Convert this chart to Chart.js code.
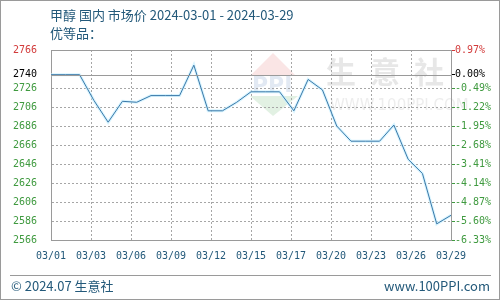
<!DOCTYPE html>
<html>
<head>
<meta charset="utf-8">
<script src="https://cdn.jsdelivr.net/npm/chart.js@4.4.1/dist/chart.umd.min.js"></script>
<style>
  html, body { margin: 0; padding: 0; background: #fff; }
  #wrap { position: relative; width: 500px; height: 300px; box-sizing: border-box; border: 1px solid #9a9a9a; overflow: hidden; }
  #wrap canvas { position: absolute; left: -1px; top: -1px; }
  .txt { position: absolute; font-family: "Noto Sans CJK SC", "Noto Sans", sans-serif; color: #23597a; white-space: nowrap; }
  #title { left: 49px; top: 5px; font-size: 13px; line-height: 18px; }
  #sub { left: 49px; top: 23px; font-size: 13px; line-height: 18px; }
  #foot { position: absolute; left: 9px; right: 8px; top: 274px; border-top: 1px solid #9a9a9a; }
  #copy { left: 10px; top: 276px; font-size: 13px; line-height: 18px; }
  #site { right: 9px; top: 276px; font-size: 13px; line-height: 18px; }
</style>
</head>
<body>
<div id="wrap">
  <canvas id="chart" width="500" height="300"></canvas>
  <div class="txt" id="title">甲醇 国内 市场价 2024-03-01 - 2024-03-29</div>
  <div class="txt" id="sub">优等品：</div>
  <div id="foot"></div>
  <div class="txt" id="copy">© 2024.07 生意社</div>
  <div class="txt" id="site">www.100PPI.com</div>
</div>
<script>
// daily prices 03/01 .. 03/29
const dates = ['03/01','03/02','03/03','03/04','03/05','03/06','03/07','03/08','03/09','03/10',
  '03/11','03/12','03/13','03/14','03/15','03/16','03/17','03/18','03/19','03/20',
  '03/21','03/22','03/23','03/24','03/25','03/26','03/27','03/28','03/29']
const prices = [2740, 2740, 2740, 2713, 2690, 2712, 2711, 2718, 2718, 2718,
  2750, 2702, 2702, 2711, 2722, 2722, 2722, 2702, 2735, 2724,
  2686, 2670, 2670, 2670, 2687, 2651, 2636, 2583, 2592]

const xTickLabels = ['03/01','03/03','03/06','03/09','03/12','03/15','03/17','03/20','03/23','03/26','03/29']
const leftTicks = [2766, 2740, 2726, 2706, 2686, 2666, 2646, 2626, 2606, 2586, 2566]
const rightTicks = ['0.97%','0.00%','-0.49%','-1.22%','-1.95%','-2.68%','-3.41%','-4.14%','-4.87%','-5.60%','-6.33%']

const basePrice = prices[0]
const yMin = leftTicks[leftTicks.length - 1]
const yMax = leftTicks[0]

const GREEN = '#3f9a3f'
const RED = '#d23a3a'
const GRID = '#a6a6a6'
const NONE = 'rgba(0,0,0,0)'
const tickColor = v => v === yMax ? RED : (v === basePrice ? '#000' : GREEN)

const points = prices.map((p, i) => ({ x: i, y: p }))
const tickFont = { family: 'DejaVu Sans Mono', size: 10 }

// faint watermark, box top + base line
const decor = {
    id: 'decor',
    beforeDraw(chart) {
        const c = chart.ctx
        c.save()
        c.globalAlpha = 0.15
        c.fillStyle = '#e05050'
        c.beginPath(); c.moveTo(273, 53); c.lineTo(296, 76); c.lineTo(250, 76); c.closePath(); c.fill()
        c.fillStyle = '#3aa040'
        c.beginPath(); c.moveTo(250, 96); c.lineTo(298, 96); c.lineTo(273, 116); c.closePath(); c.fill()
        c.fillStyle = '#3a6ab0'
        c.font = 'bold 22px "DejaVu Sans"'
        c.textBaseline = 'middle'
        c.fillText('PPI', 252, 86)
        c.globalAlpha = 1
        c.fillStyle = 'rgba(175,175,175,0.3)'
        c.font = 'bold 30px "Noto Sans CJK SC"'
        c.fillText('生', 326, 72)
        c.fillText('意', 370, 72)
        c.fillText('社', 414, 72)
        c.fillStyle = 'rgba(185,185,185,0.25)'
        c.font = '15px "DejaVu Sans"'
        c.fillText('WWW.100PPI.COM', 330, 106)
        c.restore()
    },
    afterDraw(chart) {
        const c = chart.ctx
        const a = chart.chartArea
        const sy = chart.scales.y
        const L = Math.round(a.left), R = Math.round(a.right)
        c.save()
        c.fillStyle = '#9a9a9a'
        c.fillRect(L, Math.round(a.top), R - L, 1)
        c.fillRect(L, Math.round(sy.getPixelForValue(basePrice)), R - L, 1)
        c.restore()
    }
}

new Chart(document.getElementById('chart'), {
    type: 'line',
    data: {
        datasets: [{
            data: points,
            borderColor: '#3a78a8',
            borderWidth: 1,
            pointRadius: 0,
            tension: 0,
            order: 0
        }, {
            data: points,
            borderColor: 'rgba(200,240,255,0.7)',
            borderWidth: 3,
            pointRadius: 0,
            tension: 0,
            order: 1
        }]
    },
    options: {
        responsive: false,
        animation: false,
        events: [],
        layout: { padding: { top: 50, left: 0, right: 0, bottom: 0 } },
        plugins: { legend: { display: false }, tooltip: { enabled: false } },
        scales: {
            x: {
                type: 'linear',
                min: 0,
                max: dates.length - 1,
                afterBuildTicks: s => { s.ticks = xTickLabels.map((t, i) => ({ value: i * (dates.length - 1) / (xTickLabels.length - 1) })) },
                afterFit: s => { s.height = 60 },
                ticks: {
                    font: tickFont,
                    color: '#23597a',
                    padding: 10,
                    maxRotation: 0,
                    autoSkip: false,
                    callback: (v, i) => xTickLabels[i]
                },
                grid: {
                    drawTicks: false,
                    lineWidth: 1,
                    color: ctx => (ctx.index === 0 || ctx.index === xTickLabels.length - 1) ? NONE : GRID
                },
                border: { color: '#9a9a9a', dash: [2, 2] }
            },
            y: {
                position: 'left',
                min: yMin,
                max: yMax,
                afterBuildTicks: s => { s.ticks = leftTicks.map(v => ({ value: v })) },
                afterFit: s => { s.width = 51 },
                ticks: {
                    font: tickFont,
                    padding: 14,
                    autoSkip: false,
                    color: ctx => tickColor(ctx.tick.value),
                    callback: v => String(v)
                },
                grid: {
                    drawTicks: false,
                    lineWidth: 1,
                    color: ctx => {
                        const v = leftTicks[ctx.index]
                        return (v === yMax || v === yMin || v === basePrice) ? NONE : GRID
                    }
                },
                border: { color: '#9a9a9a', dash: [2, 2] }
            },
            y1: {
                position: 'right',
                min: yMin,
                max: yMax,
                afterBuildTicks: s => { s.ticks = leftTicks.map(v => ({ value: v })) },
                afterFit: s => { s.width = 49 },
                ticks: {
                    font: tickFont,
                    padding: 0,
                    autoSkip: false,
                    color: ctx => tickColor(leftTicks[ctx.index]),
                    callback: (v, i) => rightTicks[i]
                },
                grid: {
                    drawOnChartArea: false,
                    drawTicks: true,
                    tickLength: 4,
                    tickColor: ctx => tickColor(leftTicks[ctx.index])
                },
                border: { color: '#9a9a9a' }
            }
        }
    },
    plugins: [decor]
})
</script>
</body>
</html>
